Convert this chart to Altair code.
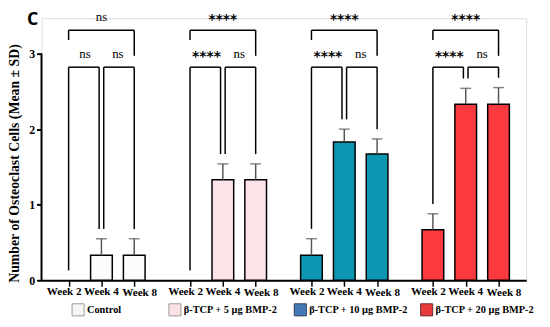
import altair as alt
import pandas as pd

# ---- data ----
groups = ["Control", "β-TCP  + 5 µg BMP-2", "β-TCP  + 10 µg BMP-2", "β-TCP  + 20 µg BMP-2"]
weeks = ["Week 2", "Week 4", "Week 8"]
means = [
    [0.0, 0.33, 0.33],
    [0.0, 1.33, 1.33],
    [0.33, 1.83, 1.67],
    [0.67, 2.33, 2.33],
]
sds = [
    [0.0, 0.22, 0.22],
    [0.0, 0.21, 0.21],
    [0.22, 0.17, 0.20],
    [0.21, 0.21, 0.22],
]
sig_top = ["ns", "****", "****", "****"]      # Week 2 vs Week 8
sig_24 = ["ns", "****", "****", "****"]       # Week 2 vs Week 4
sig_48 = ["ns", "ns", "ns", "ns"]             # Week 4 vs Week 8

bar_colors = ["#fcfcfc", "#fde3e7", "#0b97b1", "#fb3a40"]
legend_colors = ["#f6f6f6", "#fbe1e5", "#4279b6", "#e8393d"]
legend_strokes = ["#9a9a9a", "#9a9a9a", "#2f3f55", "#6a2a2a"]
legend_anchor = [0.29, 3.24, 7.06, 10.91]
week_dx = [-4.5, 0, 5.5]

# ---- layout constants ----
GROUP_GAP = 3.7
W, H = 492, 266
YMAX = 266 / 76.7
LEG_GAP = 0.13
LOW_Y = 2.82
TOP_Y = 3.31
INNER = 0.07

rows = []
for g, grp in enumerate(groups):
    for w, wk in enumerate(weeks):
        m, s = means[g][w], sds[g][w]
        rows.append(dict(group=grp, gi=g, week=wk, wi=w, pos=g * GROUP_GAP + w,
                         mean=m, sd=s, top=m + s, leg=m + s + LEG_GAP))
df = pd.DataFrame(rows)
err = df[df["sd"] > 0]
nonzero = df[df["mean"] > 0]

# brackets
segs = []
labels = []
for g in range(len(groups)):
    sub = df[df["gi"] == g].reset_index(drop=True)
    p2, p4, p8 = sub["pos"]
    l2, l4, l8 = sub["leg"]
    segs += [dict(x=p2, x2=p4 - INNER, y=LOW_Y, y2=LOW_Y),
             dict(x=p2, x2=p2, y=LOW_Y, y2=l2),
             dict(x=p4 - INNER, x2=p4 - INNER, y=LOW_Y, y2=l4)]
    segs += [dict(x=p4 + INNER, x2=p8, y=LOW_Y, y2=LOW_Y),
             dict(x=p4 + INNER, x2=p4 + INNER, y=LOW_Y, y2=l4),
             dict(x=p8, x2=p8, y=LOW_Y, y2=l8)]
    segs += [dict(x=p2, x2=p8, y=TOP_Y, y2=TOP_Y),
             dict(x=p2, x2=p2, y=TOP_Y, y2=3.18),
             dict(x=p8, x2=p8, y=TOP_Y, y2=2.97)]
    labels += [dict(x=(p2 + p4) / 2, y=2.99, t=sig_24[g]),
               dict(x=(p4 + p8) / 2, y=2.99, t=sig_48[g]),
               dict(x=(p2 + p8) / 2, y=3.48, t=sig_top[g])]
seg_df = pd.DataFrame(segs)
lab_df = pd.DataFrame(labels)
lab_df["star"] = lab_df["t"].str.startswith("*")

leg_df = pd.DataFrame(dict(group=groups, x=legend_anchor, fill=legend_colors, stroke=legend_strokes))

xscale = alt.Scale(domain=[-0.676, (W - 23) / 34], nice=False, zero=False)
yscale = alt.Scale(domain=[0, YMAX], nice=False, zero=True)

x_axis = alt.Axis(values=list(df["pos"]), labels=False, title=None, grid=False,
                  domainWidth=2, domainColor="black", tickColor="black",
                  tickSize=6, tickWidth=1.5)
y_axis = alt.Axis(values=[0, 1, 2, 3], grid=False, domain=False, format="d",
                  title="Number of Osteoclast Cells (Mean ± SD)",
                  titleFont="Liberation Serif", titleFontSize=14, titleFontWeight="bold",
                  titleColor="black", titleX=-27, titleY=H / 2 + 14, titleAngle=270,
                  titleAlign="center", titleBaseline="middle",
                  labelFont="Liberation Sans Narrow", labelFontWeight="bold", labelFontSize=12,
                  labelColor="black", tickColor="black", tickSize=5, tickWidth=2, labelPadding=2)

base = alt.Chart(df)

bars = alt.Chart(nonzero).mark_bar(size=22, stroke="black", strokeWidth=1.5).encode(
    x=alt.X("pos:Q", scale=xscale, axis=x_axis),
    y=alt.Y("mean:Q", scale=yscale, axis=y_axis),
    fill=alt.Fill("group:N", scale=alt.Scale(domain=groups, range=bar_colors), legend=None),
)
ticks_axis = base.mark_point(opacity=0).encode(
    x=alt.X("pos:Q", scale=xscale, axis=x_axis), y=alt.Y("mean:Q", scale=yscale, axis=y_axis))

y_line = alt.Chart(pd.DataFrame(dict(a=[0], b=[3]))).mark_rule(color="black", strokeWidth=2).encode(
    x=alt.value(0), y=alt.Y("a:Q", scale=yscale), y2="b:Q")

err_rule = alt.Chart(err).mark_rule(color="#555555", strokeWidth=1.5).encode(
    x="pos:Q", y="mean:Q", y2="top:Q")
err_cap = alt.Chart(err).mark_tick(color="#555555", size=11, thickness=1.5, orient="horizontal").encode(
    x="pos:Q", y="top:Q")

brackets = alt.Chart(seg_df).mark_rule(color="black", strokeWidth=1.5).encode(
    x="x:Q", x2="x2:Q", y="y:Q", y2="y2:Q")

ns_text = alt.Chart(lab_df[~lab_df["star"]]).mark_text(
    font="Liberation Sans Narrow", fontSize=13, color="black", baseline="middle").encode(
    x="x:Q", y="y:Q", text="t:N")
star_text = alt.Chart(lab_df[lab_df["star"]]).mark_text(
    font="DejaVu Sans", fontWeight="bold", fontSize=14, color="black", baseline="middle", dy=3).encode(
    x="x:Q", y="y:Q", text="t:N")

week_layers = []
for wi, wk in enumerate(weeks):
    week_layers.append(
        alt.Chart(df[df["wi"] == wi]).mark_text(
            font="Liberation Serif", fontWeight="bold", fontSize=11.3, color="black",
            baseline="middle", dx=week_dx[wi], dy=(1 if wi == 2 else 0)).encode(
            x="pos:Q", y=alt.value(H + 12), text="week:N"))

leg_sq = alt.Chart(leg_df).mark_square(size=150, opacity=1, strokeWidth=1).encode(
    x="x:Q", y=alt.value(H + 30),
    fill=alt.Fill("fill:N", scale=None), stroke=alt.Stroke("stroke:N", scale=None))
leg_txt = alt.Chart(leg_df).mark_text(font="Liberation Serif", fontWeight="bold", fontSize=10.5,
                                      color="black", align="left", baseline="middle", dx=9).encode(
    x="x:Q", y=alt.value(H + 30), text="group:N")

panel = alt.Chart(pd.DataFrame(dict(t=["C"]))).mark_text(
    font="Open Sans", fontWeight="bold", fontSize=18, color="black", baseline="middle").encode(
    x=alt.value(-9), y=alt.value(2), text="t:N")

chart = alt.layer(ticks_axis, bars, y_line, err_rule, err_cap, brackets, ns_text, star_text,
                  *week_layers, leg_sq, leg_txt, panel).properties(
    width=W, height=H,
    autosize=alt.AutoSizeParams(type="none"),
    padding={"left": 34, "top": 8, "right": 16, "bottom": 40},
).configure_view(stroke=None).configure(background="white")

chart.save("out.html", embed_options={"renderer": "svg", "actions": False})
